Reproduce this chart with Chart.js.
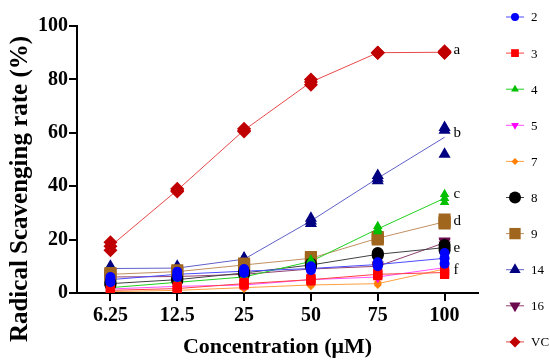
<!DOCTYPE html>
<html>
<head>
<meta charset="utf-8">
<script src="https://cdn.jsdelivr.net/npm/chart.js@4"></script>
<style>
html, body { margin: 0; padding: 0; background: #fff; }
</style>
</head>
<body>
<canvas id="scavChart" width="550" height="364"></canvas>
<script>
// Concentratii (uM)
const concentrations = ['6.25', '12.5', '25', '50', '75', '100'];

// Trei replicate pentru fiecare compus (%)
const c2  = [[4, 6, 7.5, 8.5, 10, 11], [5, 7, 8, 9, 10.5, 13], [6, 8, 9, 10, 11.5, 15]];
const c3  = [[0.5, 1, 3, 4.5, 6.5, 7], [1, 1.5, 3.5, 5, 7, 7.5], [1.5, 2.5, 4, 5.5, 7.5, 8.5]];
const c4  = [[1.5, 3.5, 5.5, 11, 23, 34], [2, 4, 6, 12, 24, 35.5], [2.5, 4.5, 6.5, 12.5, 25, 37]];
const c5  = [[1, 2, 2.5, 4.5, 5.5, 9], [1.5, 2.5, 3, 5, 6, 9.5], [2, 3, 3.5, 5.5, 6.5, 10]];
const c7  = [[0.3, 0.5, 1.5, 2.5, 3, 8.5], [0.5, 1, 2, 3, 3.5, 9], [0.8, 1.5, 2.5, 3.5, 4, 9.5]];
const c8  = [[3, 4.5, 7, 10, 14, 16], [3.5, 5, 7.5, 10.5, 14.5, 17], [4, 5.5, 8, 11, 15, 18]];
const c9  = [[6.5, 7.5, 10, 12.5, 20, 26], [7, 8, 10.5, 13, 20.5, 26.5], [7.5, 8.5, 11, 13.5, 21, 27.5]];
const c14 = [[8, 8.5, 12, 26, 42, 52], [9.5, 9.5, 13, 27, 43, 61], [10, 10, 13, 28, 44, 62]];
const c16 = [[5.5, 6, 6.5, 8.5, 9.5, 18], [6, 6, 7, 9, 10, 19], [6.5, 6.5, 7.5, 9.5, 10.5, 19.5]];
const cVC = [[16, 38, 60.5, 78, 90, 90], [19, 39, 61.5, 80, 90, 90.5], [17.5, 38.5, 61, 79, 90, 90]];

const names = ['2', '3', '4', '5', '7', '8', '9', '14', '16', 'VC'];
const yTicks = [0, 20, 40, 60, 80, 100];

// Literele de semnificatie si pozitia lor pe axa Y
const letters = ['a', 'b', 'c', 'd', 'e', 'f'];
const letterY = [91, 60, 37, 27, 17, 8.5];

const allReps = [c2, c3, c4, c5, c7, c8, c9, c14, c16, cVC];

// Stiluri
const pointColors = ['#0000ff', '#ff0000', '#00c000', '#ff00ff', '#ff8000', '#000000', '#a0661e', '#000080', '#6b0a4c', '#c00000'];
const lineColors  = ['#4a4aff', '#ff4040', '#20d020', '#ff50ff', '#ffa040', '#404040', '#c09060', '#6060c8', '#904070', '#e84848'];
const shapes      = ['circle', 'rect', 'triangle', 'triangle', 'rectRot', 'circle', 'rect', 'triangle', 'triangle', 'rectRot'];
const rotations   = [0, 0, 0, 180, 0, 0, 0, 0, 180, 0];
const radii       = [5, 6.5, 5.5, 5, 4, 6, 8.5, 7, 7, 7];
const legendRadii = [4, 5.5, 4.5, 4.5, 3.5, 6, 8, 6.5, 6.5, 5.5];

const mean = arr => arr.reduce((a, b) => a + b, 0) / arr.length;

const datasets = [];
allReps.forEach((reps, i) => {
    datasets.push({
        label: names[i],
        data: concentrations.map((c, j) => mean(reps.map(r => r[j]))),
        borderColor: lineColors[i],
        borderWidth: 1,
        pointRadius: 0,
        fill: false,
        tension: 0,
        order: 2
    });
    const pts = [];
    reps.forEach(r => r.forEach((v, j) => pts.push({ x: concentrations[j], y: v })));
    datasets.push({
        label: names[i] + ' rep',
        data: pts,
        showLine: false,
        pointStyle: shapes[i],
        rotation: rotations[i],
        pointRadius: radii[i],
        pointBackgroundColor: pointColors[i],
        pointBorderColor: pointColors[i],
        pointBorderWidth: 0,
        order: 1
    });
});

// Plugin: titluri, litere si legenda desenate manual
const extras = {
    id: 'extras',
    afterDraw(chart) {
        const ctx = chart.ctx;
        const xs = chart.scales.x, ys = chart.scales.y;
        ctx.save();
        ctx.fillStyle = '#000';
        ctx.font = 'bold 25px "Liberation Serif"';
        ctx.textAlign = 'center';
        ctx.textBaseline = 'middle';
        ctx.translate(21, 189);
        ctx.rotate(-Math.PI / 2);
        ctx.fillText('Radical Scavenging rate (%)', 0, 0);
        ctx.restore();

        ctx.save();
        ctx.fillStyle = '#000';
        ctx.font = 'bold 22px "Liberation Serif"';
        ctx.textAlign = 'center';
        ctx.textBaseline = 'middle';
        ctx.fillText('Concentration (\u03bcM)', (chart.chartArea.left + chart.chartArea.right) / 2, 347);

        ctx.font = '15px "Liberation Serif"';
        ctx.textAlign = 'left';
        const lx = xs.getPixelForValue(concentrations.length - 1) + 9;
        letters.forEach((l, i) => ctx.fillText(l, lx, ys.getPixelForValue(letterY[i])));

        // legenda
        ctx.font = '13px "Liberation Serif"';
        names.forEach((n, i) => {
            const y = 17 + i * 36.1;
            ctx.strokeStyle = lineColors[i];
            ctx.lineWidth = 1;
            ctx.beginPath();
            ctx.moveTo(506, y);
            ctx.lineTo(524, y);
            ctx.stroke();
            ctx.fillStyle = pointColors[i];
            ctx.strokeStyle = pointColors[i];
            Chart.helpers.drawPoint(ctx, {
                pointStyle: shapes[i], radius: legendRadii[i], rotation: rotations[i], borderWidth: 0
            }, 515, y);
            ctx.fillStyle = '#000';
            ctx.fillText(n, 531, y + 1);
        });
        ctx.restore();
    }
};

const ctxScav = document.getElementById('scavChart').getContext('2d');
new Chart(ctxScav, {
    type: 'line',
    data: { labels: concentrations, datasets: datasets },
    options: {
        responsive: false,
        animation: false,
        layout: { padding: { top: 26, right: 72, left: 0, bottom: 0 } },
        plugins: { legend: { display: false }, tooltip: { enabled: false } },
        scales: {
            x: {
                type: 'category',
                offset: true,
                afterFit: s => { s.height = 71; },
                border: { color: '#000', width: 2 },
                grid: { display: true, drawOnChartArea: false, drawTicks: true, tickLength: 8, color: '#000', lineWidth: 2, offset: false },
                ticks: { color: '#000', padding: 3, font: { family: '"Liberation Serif"', size: 20, weight: 'bold' } }
            },
            y: {
                min: 0,
                max: 100,
                afterFit: s => { s.width = 77; },
                afterBuildTicks: s => { s.ticks = yTicks.map(v => ({ value: v })); },
                border: { color: '#000', width: 2 },
                grid: { display: true, drawOnChartArea: false, drawTicks: true, tickLength: 8, color: '#000', lineWidth: 2 },
                ticks: { color: '#000', padding: 1, font: { family: '"Liberation Serif"', size: 20, weight: 'bold' } }
            }
        }
    },
    plugins: [extras]
});
</script>
</body>
</html>
